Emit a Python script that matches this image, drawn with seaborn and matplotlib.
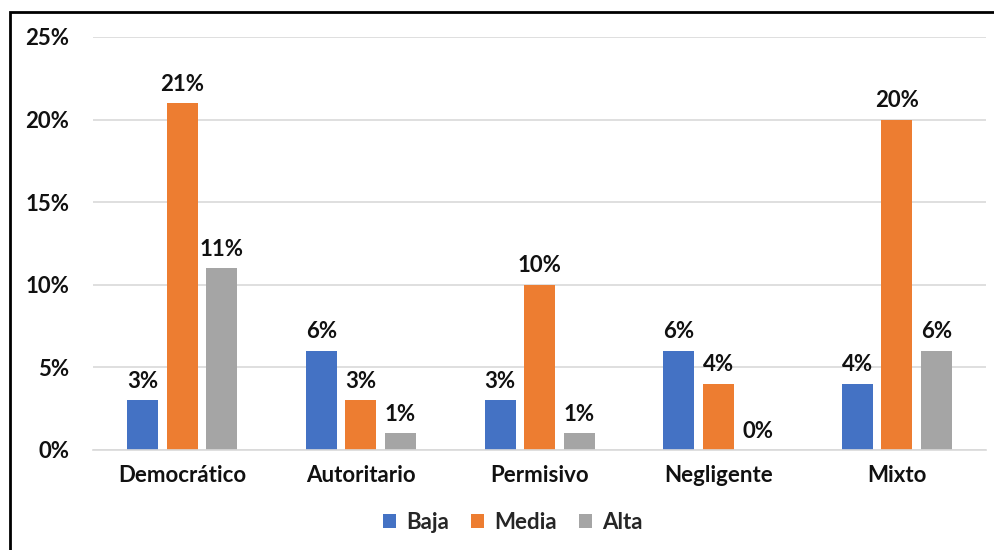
import matplotlib.pyplot as plt
from matplotlib.patches import Rectangle
import pandas as pd
import seaborn as sns

estilos = ["Democrático", "Autoritario", "Permisivo", "Negligente", "Mixto"]
niveles = ["Baja", "Media", "Alta"]
baja = [0.03, 0.06, 0.03, 0.06, 0.04]
media = [0.21, 0.03, 0.10, 0.04, 0.20]
alta = [0.11, 0.01, 0.01, 0.00, 0.06]
colores = ["#4472C4", "#ED7D31", "#A5A5A5"]
yticks = [0, 0.05, 0.10, 0.15, 0.20, 0.25]

df = pd.DataFrame({
    "Estilo": estilos * 3,
    "Nivel": [n for n in niveles for _ in estilos],
    "Valor": baja + media + alta,
})

sns.set_style("white")
plt.rcParams["font.family"] = ["Lato", "DejaVu Sans"]
plt.rcParams["font.weight"] = "bold"
fs = 16

fig = plt.figure(figsize=(9.95, 5.5), dpi=100)
ax = fig.add_axes([0.0935, 0.182, 0.8975, 0.7508])

sns.barplot(data=df, x="Estilo", y="Valor", hue="Nivel", order=estilos,
            hue_order=niveles, palette=colores, width=0.663, gap=0.215,
            saturation=1, linewidth=0, ax=ax)

for cont in ax.containers:
    ax.bar_label(cont, labels=[f"{v:.0%}" for v in cont.datavalues],
                 padding=6, fontsize=fs, fontweight="bold", color="#111111")

ax.set_ylim(0, 0.25)
ax.set_yticks(yticks)
ax.set_yticklabels([f"{t:.0%}" for t in yticks])
ax.yaxis.grid(True, color="#D9D9D9", linewidth=1.2)
ax.set_axisbelow(True)
for s in ["top", "right", "left"]:
    ax.spines[s].set_visible(False)
ax.spines["bottom"].set_color("#D9D9D9")
ax.spines["bottom"].set_linewidth(1.2)
ax.tick_params(axis="both", length=0, labelsize=fs, colors="#111111")
ax.tick_params(axis="y", pad=17)
ax.tick_params(axis="x", pad=11)
for lab in ax.get_xticklabels() + ax.get_yticklabels():
    lab.set_fontweight("bold")
ax.set_xlabel("")
ax.set_ylabel("")

ax.legend(loc="center", bbox_to_anchor=(0.47, -0.175), ncol=3, frameon=False,
          handlelength=0.6, handleheight=0.6, handletextpad=0.45,
          columnspacing=1.0, prop={"size": fs, "weight": "bold"})

fig.patches.append(Rectangle((10 / 995, -0.1), 1.2, 0.1 + 1 - 12 / 550,
                             transform=fig.transFigure, fill=False,
                             edgecolor="black", linewidth=2, zorder=10))

fig.savefig("out.png", dpi=100)
